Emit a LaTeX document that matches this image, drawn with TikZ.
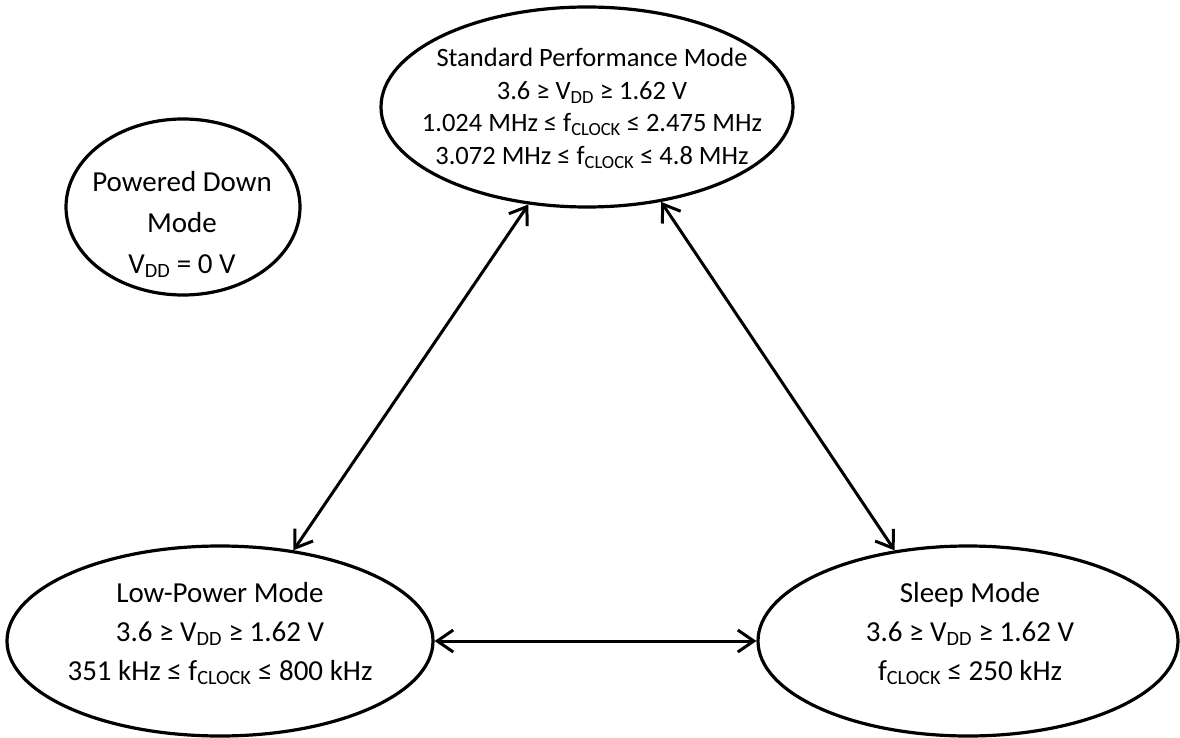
\documentclass[tikz,border=0pt]{standalone}
\usepackage{fontspec}
\setmainfont{Carlito}
\usetikzlibrary{shapes.geometric,arrows.meta}
\newcommand\lsub[1]{\textsubscript{#1}}
\begin{document}
\begin{tikzpicture}[x=1pt,y=-1pt,
  mode/.style={draw,ellipse,line width=3.2pt,inner sep=0pt},
  ln/.style={anchor=base,inner sep=0pt},
  big/.style={ln,font=\fontsize{29}{35}\selectfont},
  small/.style={ln,font=\fontsize{26.5}{32}\selectfont},
  link/.style={line width=3pt,{Straight Barb[length=16pt,width=22pt]}-{Straight Barb[length=16pt,width=22pt]}}]
\useasboundingbox (0,0) rectangle (1180,738);
% ellipses
\node[mode,minimum width=412pt,minimum height=200pt] (sp) at (587,107) {};
\node[mode,minimum width=234pt,minimum height=176pt] (pd) at (183,207) {};
\node[mode,minimum width=426pt,minimum height=190pt] (lp) at (220,641) {};
\node[mode,minimum width=420pt,minimum height=190pt] (sl) at (968,641) {};
% texts
\node[small] (sp1) at (592,67) {Standard Performance Mode};
\node[small] (sp2) at (592,100) {3.6 ≥ V\lsub{DD} ≥ 1.62 V};
\node[small] (sp3) at (592,132) {1.024 MHz ≤ f\lsub{CLOCK} ≤ 2.475 MHz};
\node[small] (sp4) at (592,165) {3.072 MHz ≤ f\lsub{CLOCK} ≤ 4.8 MHz};
\node[big] (pd1) at (182,192) {Powered Down};
\node[big] (pd2) at (182,232) {Mode};
\node[big] (pd3) at (182,273) {V\lsub{DD} = 0 V};
\node[big] (lp1) at (220,602) {Low-Power Mode};
\node[big] (lp2) at (220,641) {3.6 ≥ V\lsub{DD} ≥ 1.62 V};
\node[big] (lp3) at (220,680) {351 kHz ≤ f\lsub{CLOCK} ≤ 800 kHz};
\node[big] (sl1) at (970,602) {Sleep Mode};
\node[big] (sl2) at (970,641) {3.6 ≥ V\lsub{DD} ≥ 1.62 V};
\node[big] (sl3) at (970,680) {f\lsub{CLOCK} ≤ 250 kHz};
% connectors
\draw[link] (sp.239) -- (lp.51);
\draw[link] (sp.308) -- (sl.129);
\draw[link] (lp.east) -- (sl.west);
\end{tikzpicture}
\end{document}
